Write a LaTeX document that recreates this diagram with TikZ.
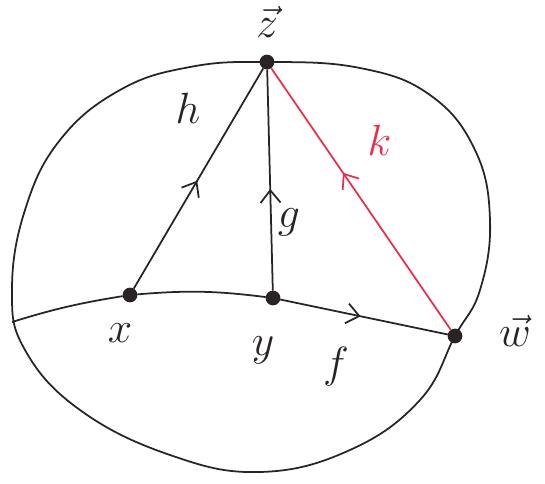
\documentclass[tikz,border=0pt]{standalone}
\usepackage{amsmath,amssymb}
\usepackage{xcolor}
\usetikzlibrary{positioning,calc,arrows.meta,decorations.markings,quotes}

\definecolor{ink}{RGB}{40,36,36}
\definecolor{pen}{RGB}{232,48,78}

\begin{document}
\begin{tikzpicture}[ink, line width=1pt, main/.style = {circle, draw, fill=ink, minimum size=2.6mm, inner sep=0pt}, every edge quotes/.append style={font=\Huge}, lbl/.style={font=\Huge}, mid/.style={postaction={decorate}, decoration={markings, mark=at position #1 with {\arrow{Straight Barb[length=2.5mm,width=4mm]}}}}]
\useasboundingbox (0,0) rectangle (10.9,9.66);

% outer boundary
\draw plot[smooth cycle, tension=0.7] coordinates {(5.34,8.42) (7.2,8.3) (8.6,7.76) (9.5,6.66) (9.8,5.26) (9.6,3.86) (9.1,2.94) (8.4,1.66) (7.0,0.66) (5.2,0.22) (3.4,0.56) (1.6,1.46) (0.5,2.66) (0.24,3.86) (0.5,5.46) (1.2,6.86) (2.4,7.86) (3.8,8.32)};

\node[main] (z) at (5.34,8.42) {};
\node[main] (x) at (2.60,3.76) {};
\node[main] (y) at (5.46,3.70) {};
\node[main] (w) at (9.10,2.94) {};
\coordinate (l) at (0.24,3.22);

\node[lbl, above=2mm of z] (zl) {$\vec{z}$};
\node[lbl, right=6mm of w, yshift=1mm] (wl) {$\vec{w}$};
\node[lbl, below=3mm of x, xshift=-2mm] (xl) {$x$};
\node[lbl, below=5mm of y, xshift=-2mm] (yl) {$y$};

\draw (l) to[bend left=4] (x);
\draw (x) to[bend left=6] (y);

\path
 (x) edge["$h$" {xshift=-4mm}, pos=0.72, mid=0.49] (z)
 (y) edge["$g$"', pos=0.31, mid=0.46] (z)
 (y) edge["$f$"' {yshift=-5mm}, pos=0.45, mid=0.48] (w)
 (w) edge[pen, "$k$"' {xshift=5mm}, pos=0.64, mid=0.6] (z);
\end{tikzpicture}
\end{document}
